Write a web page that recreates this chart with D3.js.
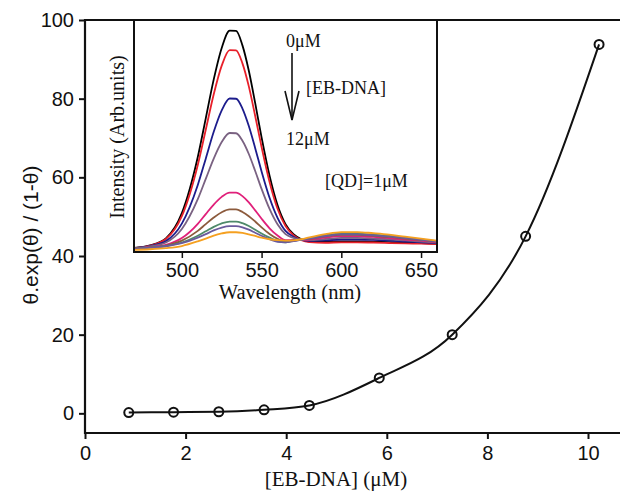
<!doctype html>
<html>
<head>
<meta charset="UTF-8">
<script src="https://d3js.org/d3.v7.min.js"></script>
<style>
  body { margin: 0; background: #fff; }
  text { fill: #111; }
</style>
</head>
<body>
<script>
// main plot: theta.exp(theta)/(1-theta) vs [EB-DNA]
var ebConc   = [0.87, 1.76, 2.66, 3.56, 4.46, 5.85, 7.30, 8.76, 10.22];
var thetaFn  = [0.2, 0.3, 0.4, 0.9, 2.0, 9.0, 20.0, 45.0, 93.8];
var xTicks   = [0, 2, 4, 6, 8, 10];
var yTicks   = [0, 20, 40, 60, 80, 100];

// inset: emission spectra
var wavelengths = [470, 480, 490, 500, 510, 515, 520, 525, 530, 534, 538, 542, 546, 550,
                   555, 560, 565, 570, 575, 580, 590, 600, 610, 620, 630, 640, 650, 660];
var spec0  = [2.2, 3.3, 6.3, 17.1, 41.2, 57.8, 74.5, 88.0, 95.4, 95.3, 89.1, 78.2, 64.3, 49.6,
              33.2, 20.6, 12.4, 8.1, 5.9, 4.9, 4.8, 5.0, 5.0, 4.9, 4.7, 4.4, 4.2, 3.9];
var spec1  = [2.1, 3.2, 6.0, 15.8, 37.8, 52.9, 68.1, 80.4, 87.1, 87.0, 81.4, 71.5, 58.8, 45.5,
              30.5, 19.0, 11.6, 7.6, 5.5, 4.7, 4.4, 4.6, 4.6, 4.5, 4.3, 4.1, 4.0, 3.8];
var spec2  = [2.1, 3.0, 5.1, 12.6, 29.2, 40.5, 52.0, 61.2, 66.3, 66.2, 62.0, 54.5, 45.0, 35.0,
              23.7, 15.1, 9.5, 7.0, 5.6, 5.2, 5.4, 5.8, 5.8, 5.6, 5.3, 4.9, 4.6, 4.2];
var spec3  = [2.0, 2.8, 4.5, 10.3, 23.1, 31.8, 40.5, 47.6, 51.5, 51.4, 48.2, 42.5, 35.2, 27.5,
              18.9, 12.3, 8.1, 6.5, 5.6, 5.5, 6.0, 6.5, 6.5, 6.2, 5.9, 5.4, 4.9, 4.4];
var spec4  = [1.9, 2.5, 3.5, 6.4, 12.5, 16.7, 20.8, 24.1, 25.9, 25.9, 24.4, 21.7, 18.3, 14.7,
              10.6, 7.5, 5.5, 5.6, 5.5, 5.8, 6.6, 7.2, 7.2, 6.9, 6.4, 5.8, 5.3, 4.7];
var spec5  = [1.9, 2.4, 3.2, 5.3, 9.5, 12.4, 15.2, 17.5, 18.7, 18.7, 17.6, 15.8, 13.5, 11.0,
              8.2, 6.1, 4.8, 5.4, 5.6, 6.1, 7.1, 7.8, 7.8, 7.4, 6.9, 6.2, 5.6, 4.9];
var spec6  = [1.8, 2.3, 3.0, 4.5, 7.4, 9.3, 11.2, 12.7, 13.5, 13.5, 12.8, 11.6, 10.0, 8.4,
              6.6, 5.1, 4.6, 5.3, 5.8, 6.4, 7.6, 8.3, 8.3, 7.9, 7.3, 6.6, 5.8, 5.1];
var spec7  = [1.8, 2.3, 2.9, 4.2, 6.6, 8.1, 9.7, 10.9, 11.5, 11.5, 11.0, 10.0, 8.7, 7.4,
              5.9, 4.8, 4.6, 5.1, 5.6, 6.2, 7.3, 8.0, 8.0, 7.6, 7.1, 6.4, 5.7, 4.9];
var spec8  = [1.3, 1.6, 2.1, 3.0, 5.0, 6.2, 7.5, 8.4, 8.9, 8.9, 8.6, 8.0, 7.3, 6.6,
              5.9, 5.5, 5.3, 5.4, 5.9, 6.7, 8.1, 9.0, 9.0, 8.5, 7.9, 7.0, 6.2, 5.3];
var spectra = [spec0, spec1, spec2, spec3, spec4, spec5, spec6, spec7, spec8];
var insetTicks = [500, 550, 600, 650];

var specColors = ["#000000", "#e8202a", "#1c1c8c", "#7a6282", "#e0207a",
                  "#8c5a3c", "#4f8a6a", "#6a5a9c", "#f5a020"];

var sans = "'Liberation Sans', Arial, sans-serif";
var serif = "'Liberation Serif', 'Times New Roman', serif";

var svg = d3.select("body").append("svg")
  .attr("width", 620).attr("height", 494);

svg.append("rect").attr("width", 620).attr("height", 494).attr("fill", "white");

var x = d3.scaleLinear().domain([0, 11]).range([85, 85 + 11 * 50.3]);
var y = d3.scaleLinear().domain([-5, 100]).range([433, 20]);

// y axis
var yAxis = svg.append("g").attr("transform", "translate(85,0)")
  .call(d3.axisLeft(y).tickValues(yTicks).tickSize(6).tickSizeOuter(0).tickPadding(5));
yAxis.select(".domain").remove();
yAxis.selectAll("line").attr("stroke", "#111").attr("stroke-width", 2);
yAxis.selectAll("text").attr("font-family", sans).attr("font-size", 20).attr("fill", "#111");

// x axis
var xAxis = svg.append("g").attr("transform", "translate(0,433)")
  .call(d3.axisBottom(x).tickValues(xTicks).tickSize(6).tickSizeOuter(0).tickPadding(7));
xAxis.select(".domain").remove();
xAxis.selectAll("line").attr("stroke", "#111").attr("stroke-width", 2);
xAxis.selectAll("text").attr("font-family", sans).attr("font-size", 20).attr("fill", "#111");

// frame lines (left, bottom, top)
svg.append("line").attr("x1", 85).attr("x2", 85).attr("y1", 19).attr("y2", 434)
  .attr("stroke", "#111").attr("stroke-width", 2.2);
svg.append("line").attr("x1", 84).attr("x2", 620).attr("y1", 433).attr("y2", 433)
  .attr("stroke", "#111").attr("stroke-width", 2.2);
svg.append("line").attr("x1", 84).attr("x2", 620).attr("y1", 20).attr("y2", 20)
  .attr("stroke", "#111").attr("stroke-width", 2.2);

// fit curve + points
var pts = ebConc.map(function(d, i){ return [d, thetaFn[i]]; });
svg.append("path").datum(pts)
  .attr("d", d3.line().x(function(d){ return x(d[0]); }).y(function(d){ return y(d[1]); })
    .curve(d3.curveMonotoneX))
  .attr("fill", "none").attr("stroke", "#111").attr("stroke-width", 2);
svg.selectAll("circle.pt").data(pts).enter().append("circle")
  .attr("class", "pt")
  .attr("cx", function(d){ return x(d[0]); })
  .attr("cy", function(d){ return y(d[1]); })
  .attr("r", 4.5)
  .attr("fill", "none").attr("stroke", "#111").attr("stroke-width", 2);

// axis titles
svg.append("text").attr("x", 336).attr("y", 486).attr("text-anchor", "middle")
  .attr("font-family", serif).attr("font-size", 21).text("[EB-DNA] (\u03bcM)");
svg.append("text").attr("transform", "translate(38,235) rotate(-90)")
  .attr("text-anchor", "middle").attr("font-family", sans).attr("font-size", 21)
  .text("\u03b8.exp(\u03b8) / (1-\u03b8)");

// ---------------- inset ----------------
var ix = d3.scaleLinear().domain([470, 660]).range([134, 437]);
var iy = d3.scaleLinear().domain([0, 100]).range([253, 20]);

svg.append("rect").attr("x", 134).attr("y", 20).attr("width", 303).attr("height", 232)
  .attr("fill", "white");

var specLine = d3.line()
  .x(function(d, i){ return ix(wavelengths[i]); })
  .y(function(d){ return iy(d); })
  .curve(d3.curveMonotoneX);

svg.append("g").selectAll("path").data(spectra).enter().append("path")
  .attr("d", specLine)
  .attr("fill", "none")
  .attr("stroke", function(d, i){ return specColors[i]; })
  .attr("stroke-width", 1.8);

svg.append("rect").attr("x", 134).attr("y", 20).attr("width", 303).attr("height", 232)
  .attr("fill", "none").attr("stroke", "#111").attr("stroke-width", 2);

var ixAxis = svg.append("g").attr("transform", "translate(0,252)")
  .call(d3.axisBottom(ix).tickValues(insetTicks).tickSize(6).tickSizeOuter(0).tickPadding(5));
ixAxis.select(".domain").remove();
ixAxis.selectAll("line").attr("stroke", "#111").attr("stroke-width", 1.5);
ixAxis.selectAll("text").attr("font-family", sans).attr("font-size", 20).attr("fill", "#111");

svg.append("text").attr("x", 290).attr("y", 299).attr("text-anchor", "middle")
  .attr("font-family", serif).attr("font-size", 20.5).text("Wavelength (nm)");
svg.append("text").attr("transform", "translate(124,137) rotate(-90)")
  .attr("text-anchor", "middle").attr("font-family", serif).attr("font-size", 20)
  .text("Intensity (Arb.units)");

// annotations
svg.append("text").attr("x", 286).attr("y", 47).attr("font-family", serif)
  .attr("font-size", 18).text("0\u03bcM");
svg.append("text").attr("x", 306).attr("y", 94).attr("font-family", serif)
  .attr("font-size", 18).text("[EB-DNA]");
svg.append("text").attr("x", 286).attr("y", 145).attr("font-family", serif)
  .attr("font-size", 18).text("12\u03bcM");
svg.append("text").attr("x", 325).attr("y", 187).attr("font-family", serif)
  .attr("font-size", 18).text("[QD]=1\u03bcM");

svg.append("line").attr("x1", 292).attr("x2", 292).attr("y1", 53).attr("y2", 120)
  .attr("stroke", "#111").attr("stroke-width", 1.6);
svg.append("path").attr("d", "M285,91 L292,120 L299,91")
  .attr("fill", "none").attr("stroke", "#111").attr("stroke-width", 1.6);
</script>
</body>
</html>
